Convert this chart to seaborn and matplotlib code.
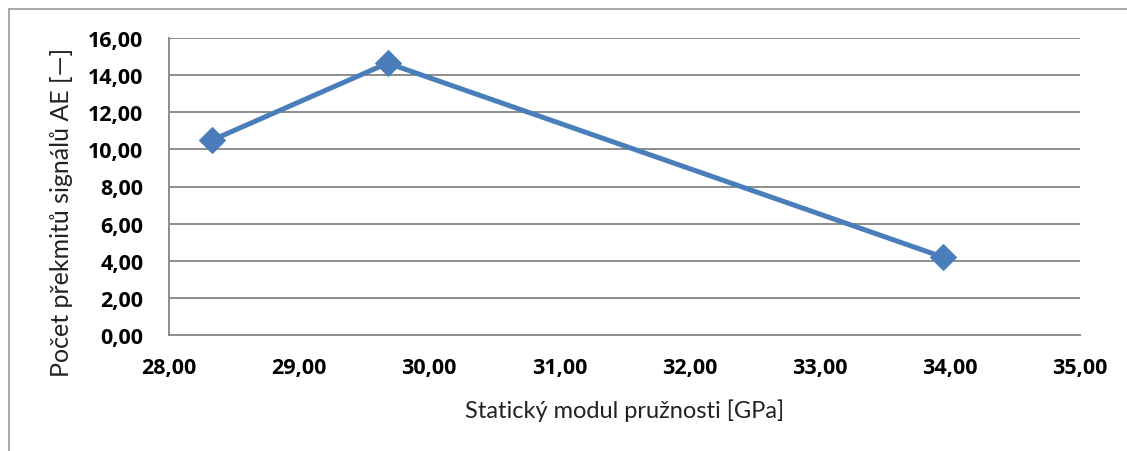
import matplotlib
matplotlib.use("Agg")
import matplotlib.pyplot as plt
import matplotlib.patches as mpatches
import seaborn as sns
import pandas as pd

# Static modulus of elasticity vs. number of AE signal overshoots
modulus_gpa = [28.33, 29.68, 33.95]
ae_counts = [10.5, 14.66, 4.18]

x_ticks = [28, 29, 30, 31, 32, 33, 34, 35]
y_ticks = [0, 2, 4, 6, 8, 10, 12, 14, 16]

x_label = "Statický modul pružnosti [GPa]"
y_label = "Počet překmitů signálů AE [—]"

df = pd.DataFrame({"modul": modulus_gpa, "pocet": ae_counts})


def cz(v):
    return f"{v:.2f}".replace(".", ",")


sns.set_style("white")
plt.rcParams["font.family"] = ["Lato", "DejaVu Sans"]
tick_font = dict(family=["Open Sans", "DejaVu Sans"], fontweight="bold", fontsize=15.5)

W, H = 1127, 452
fig = plt.figure(figsize=(W / 100, H / 100), dpi=100)
ax = fig.add_axes([169 / W, 1 - 335.7 / H, (1080 - 169) / W, (335.7 - 39.3) / H])

line_color = "#4A7EBB"
sns.lineplot(data=df, x="modul", y="pocet", ax=ax, color=line_color,
             linewidth=3.6, marker="D", markersize=13,
             markeredgecolor=line_color, markerfacecolor=line_color,
             sort=False, zorder=3)

ax.set_xlim(28, 35)
ax.set_ylim(0, 16)
ax.set_xticks(x_ticks)
ax.set_xticklabels([cz(v) for v in x_ticks], **tick_font)
ax.set_yticks(y_ticks)
ax.set_yticklabels([cz(v) for v in y_ticks], **tick_font)

ax.grid(axis="y", color="#8C8C8C", linewidth=1.4)
ax.grid(axis="x", visible=False)
for side in ("top", "right"):
    ax.spines[side].set_visible(False)
for side in ("left", "bottom"):
    ax.spines[side].set_color("#8C8C8C")
    ax.spines[side].set_linewidth(1.4)

ax.tick_params(axis="both", length=0, colors="black")
ax.tick_params(axis="y", pad=18.5)
ax.tick_params(axis="x", pad=16)

ax.set_xlabel(x_label, fontsize=17, color="#222222")
ax.set_ylabel(y_label, fontsize=18, color="#222222")
plot_h = 335.7 - 39.3
plot_w = 1080 - 169
ax.xaxis.set_label_coords(0.5, -(399 - 335.7) / plot_h, transform=ax.transAxes)
ax.yaxis.set_label_coords(-(169 - 73) / plot_w, (335.7 - 212) / plot_h,
                          transform=ax.transAxes)

# chart frame
frame = mpatches.Rectangle((9 / W, -0.1), 1.2, 1 - 10 / H + 0.1,
                           transform=fig.transFigure, fill=False,
                           edgecolor="#9A9A9A", linewidth=1.2)
fig.add_artist(frame)

fig.savefig("out.png", dpi=100, facecolor="white")
